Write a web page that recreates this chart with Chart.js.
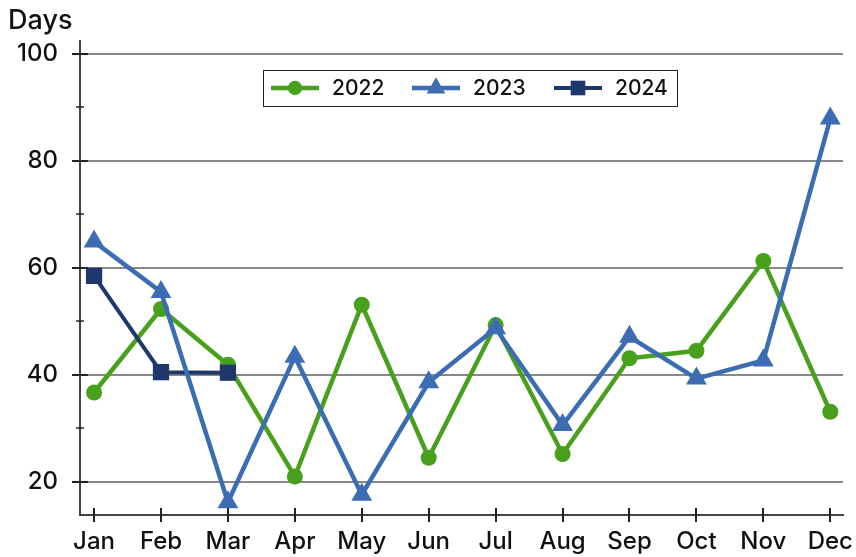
<!DOCTYPE html>
<html>
<head>
<meta charset="utf-8">
<script src="https://cdn.jsdelivr.net/npm/chart.js@4"></script>
<style>
html,body{margin:0;padding:0;background:#fff;}
#wrap{width:856px;height:557px;position:relative;}
</style>
</head>
<body>
<div id="wrap"><canvas id="c" width="856" height="557"></canvas></div>
<script>
const months = ['Jan','Feb','Mar','Apr','May','Jun','Jul','Aug','Sep','Oct','Nov','Dec'];
const seriesNames = ['2022','2023','2024'];
const values2022 = [36.7, 52.3, 41.9, 21.0, 53.1, 24.5, 49.3, 25.2, 43.1, 44.5, 61.3, 33.1];
const values2023 = [64.9, 55.5, 16.2, 43.4, 17.6, 38.6, 48.7, 30.6, 47.1, 39.3, 42.7, 87.9];
const values2024 = [58.5, 40.5, 40.4];
const yMajorTicks = [20, 40, 60, 80, 100];
const yMinorTicks = [30, 50, 70, 90];
const yTitle = 'Days';

const FONT = "Inter, 'DejaVu Sans', sans-serif";
const colors = ['#48a01c', '#3c6db3', '#1f386b'];
const styles = ['circle', 'triangle', 'rect'];
const radii = [8, 12, 11.5];
const widths = [4.5, 4.5, 4];

const toPts = arr => arr.map((v, i) => ({x: i, y: v}));
const allVals = [values2022, values2023, values2024];

const datasets = allVals.map((vals, k) => ({
  label: seriesNames[k],
  data: toPts(vals),
  borderColor: colors[k],
  backgroundColor: colors[k],
  pointBackgroundColor: colors[k],
  pointBorderColor: colors[k],
  pointBorderWidth: 0,
  borderWidth: widths[k],
  pointStyle: styles[k],
  pointRadius: radii[k],
  pointHoverRadius: radii[k],
  tension: 0,
  clip: false,
  order: [2, 0, 1][k]
}));

const customDraw = {
  id: 'customDraw',
  afterDraw(chart) {
    const ctx = chart.ctx;
    const xs = chart.scales.x, ys = chart.scales.y;
    const area = chart.chartArea;
    ctx.save();
    // title
    ctx.fillStyle = '#111';
    ctx.font = '500 27px ' + FONT;
    ctx.textAlign = 'left';
    ctx.textBaseline = 'alphabetic';
    ctx.fillText(yTitle, 8, 29);
    // y tick marks
    ctx.strokeStyle = '#222';
    ctx.lineWidth = 2;
    yMajorTicks.forEach(v => {
      const y = Math.round(ys.getPixelForValue(v));
      ctx.beginPath(); ctx.moveTo(area.left - 8, y); ctx.lineTo(area.left + 8, y); ctx.stroke();
    });
    ctx.lineWidth = 1.5;
    yMinorTicks.forEach(v => {
      const y = Math.round(ys.getPixelForValue(v));
      ctx.beginPath(); ctx.moveTo(area.left - 4, y); ctx.lineTo(area.left + 4, y); ctx.stroke();
    });
    // x tick marks
    ctx.lineWidth = 2;
    months.forEach((m, i) => {
      const x = Math.round(xs.getPixelForValue(i));
      ctx.beginPath(); ctx.moveTo(x, area.bottom - 7); ctx.lineTo(x, area.bottom + 7); ctx.stroke();
    });
    // legend
    const lx = 263, ly = 70, lw = 414, lh = 36;
    ctx.fillStyle = '#fff';
    ctx.fillRect(lx, ly, lw, lh);
    ctx.strokeStyle = '#222';
    ctx.lineWidth = 1;
    ctx.strokeRect(lx + 0.5, ly + 0.5, lw, lh);
    const starts = [271, 412, 554];
    const cy = ly + 18;
    ctx.font = '500 21px ' + FONT;
    ctx.textBaseline = 'middle';
    seriesNames.forEach((name, k) => {
      const x0 = starts[k];
      ctx.strokeStyle = colors[k];
      ctx.lineWidth = widths[k];
      ctx.beginPath(); ctx.moveTo(x0, cy); ctx.lineTo(x0 + 48, cy); ctx.stroke();
      ctx.fillStyle = colors[k];
      ctx.beginPath();
      const r = radii[k] * 0.9;
      if (styles[k] === 'circle') { ctx.arc(x0 + 24, cy, r, 0, Math.PI * 2); }
      else if (styles[k] === 'triangle') {
        ctx.moveTo(x0 + 24, cy - r);
        ctx.lineTo(x0 + 24 + r * 0.866, cy + r / 2);
        ctx.lineTo(x0 + 24 - r * 0.866, cy + r / 2);
        ctx.closePath();
      } else { const s = r * Math.SQRT1_2; ctx.rect(x0 + 24 - s, cy - s, 2 * s, 2 * s); }
      ctx.fill();
      ctx.fillStyle = '#111';
      ctx.fillText(name, x0 + 61, cy + 1);
    });
    ctx.restore();
  }
};

new Chart(document.getElementById('c'), {
  type: 'line',
  data: { datasets },
  options: {
    responsive: false,
    animation: false,
    devicePixelRatio: 1,
    layout: { padding: { top: 41, right: 13, left: 0, bottom: 0 } },
    plugins: { legend: { display: false }, tooltip: { enabled: false } },
    scales: {
      x: {
        type: 'linear',
        min: -0.21,
        max: 11.19,
        afterBuildTicks: s => { s.ticks = months.map((m, i) => ({value: i})); },
        afterFit: s => { s.height = 42; s.paddingLeft = 0; s.paddingRight = 0; },
        ticks: {
          callback: v => months[v],
          font: { family: FONT, size: 24, weight: 500 },
          color: '#111',
          padding: 12,
          maxRotation: 0,
          autoSkip: false
        },
        grid: { display: false, drawTicks: false },
        border: { display: true, color: '#444', width: 2 }
      },
      y: {
        min: 13.8,
        max: 102.4,
        afterBuildTicks: s => { s.ticks = yMajorTicks.map(v => ({value: v})); },
        afterFit: s => { s.width = 80; s.paddingTop = 0; s.paddingBottom = 0; },
        ticks: {
          font: { family: FONT, size: 24, weight: 500 },
          color: '#111',
          padding: 22
        },
        grid: { display: true, drawTicks: false, color: '#888', lineWidth: 2 },
        border: { display: true, color: '#444', width: 2 }
      }
    }
  },
  plugins: [customDraw]
});
</script>
</body>
</html>
